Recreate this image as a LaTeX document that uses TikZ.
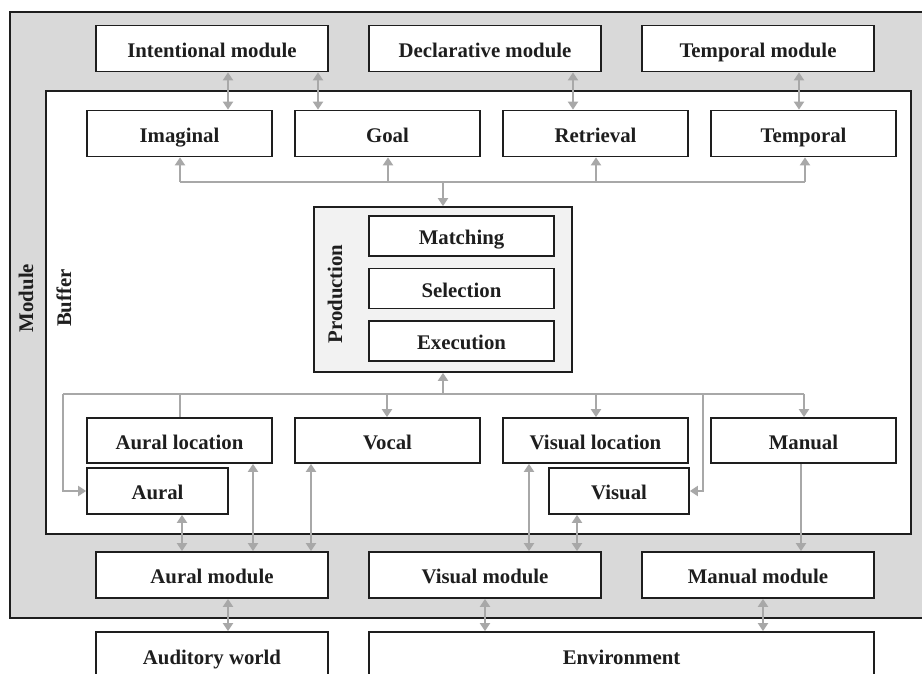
\documentclass[tikz,border=0pt]{standalone}
\usepackage{fontspec}
\setmainfont{Liberation Serif}
\usetikzlibrary{arrows.meta}
\definecolor{wire}{HTML}{A8A8A8}
\definecolor{panel}{HTML}{D9D9D9}
\definecolor{prodfill}{HTML}{F2F2F2}
\definecolor{ink}{HTML}{1E1E1E}
\begin{document}
\begin{tikzpicture}[x=1pt,y=-1pt,
  lbl/.style={text=ink, font=\fontsize{20.8}{24}\selectfont\bfseries},
  box/.style={lbl, draw=ink, line width=1.8pt, fill=white, inner sep=0pt,
    text height=18pt, text depth=0.5pt},
  modbox/.style={box, minimum width=232pt, minimum height=46pt},
  bufbox/.style={box, minimum width=185pt, minimum height=46pt},
  subbox/.style={box, minimum width=141pt, minimum height=46pt},
  stagebox/.style={box, minimum width=185pt, minimum height=40pt},
  tip/.tip={Triangle[width=10pt,length=8pt]},
  ln/.style={draw=wire, line width=2.8pt},
  arr/.style={ln, -tip},
  biarr/.style={ln, tip-tip}]

\useasboundingbox (0,0) rectangle (922,674);
\clip (0,0) rectangle (922,674);

% module frame and buffer area
\draw[draw=ink, line width=1.8pt, fill=panel] (10,12) rectangle (940,618);
\draw[draw=ink, line width=1.8pt, fill=white] (46,91) rectangle (911,534);
\node[lbl, rotate=90] (modlbl) at (26,298) {Module};
\node[lbl, rotate=90] (buflbl) at (64,298) {Buffer};

% top modules
\node[modbox] (intm) at (212,48.5) {Intentional module};
\node[modbox] (decm) at (485,48.5) {Declarative module};
\node[modbox] (tmpm) at (758,48.5) {Temporal module};

% top buffers
\node[bufbox] (imag) at (179.5,133.5) {Imaginal};
\node[bufbox] (goal) at (387.5,133.5) {Goal};
\node[bufbox] (retr) at (595.5,133.5) {Retrieval};
\node[bufbox] (temp) at (803.5,133.5) {Temporal};

% production system
\node[draw=ink, line width=1.8pt, fill=prodfill, minimum width=258pt, minimum height=165pt, inner sep=0pt] (prod) at (443,289.5) {};
\node[lbl, rotate=90] (prodlbl) at (335,294) {Production};
\node[stagebox] (match) at (461.5,236) {Matching};
\node[stagebox] (select) at (461.5,288.5) {Selection};
\node[stagebox] (exec) at (461.5,341) {Execution};

% lower buffers
\node[bufbox, minimum height=45pt] (auloc) at (179.5,440.5) {Aural location};
\node[subbox] (aural) at (157.5,491) {Aural};
\node[bufbox, minimum height=45pt] (vocal) at (387.5,440.5) {Vocal};
\node[bufbox, minimum height=45pt] (viloc) at (595.5,440.5) {Visual location};
\node[subbox, minimum width=140pt] (visual) at (619,491) {Visual};
\node[bufbox, minimum height=45pt] (manual) at (803.5,440.5) {Manual};

% perceptual and motor modules
\node[modbox] (aurm) at (212,575) {Aural module};
\node[modbox] (vism) at (485,575) {Visual module};
\node[modbox] (manm) at (758,575) {Manual module};

% outside world
\node[modbox, minimum height=48pt] (audw) at (212,656) {Auditory world};
\node[box, minimum width=505pt, minimum height=48pt] (env) at (621.5,656) {Environment};

% module <-> buffer links (top)
\draw[biarr] (228,0 |- intm.south) -- (228,0 |- imag.north);
\draw[biarr] (318,0 |- intm.south) -- (318,0 |- goal.north);
\draw[biarr] (573,0 |- decm.south) -- (573,0 |- retr.north);
\draw[biarr] (799,0 |- tmpm.south) -- (799,0 |- temp.north);

% upper bus
\coordinate (bt) at (443,182);
\draw[ln] (180,0 |- bt) -- (805,0 |- bt);
\draw[arr] (180,0 |- bt) -- (180,0 |- imag.south);
\draw[arr] (388,0 |- bt) -- (388,0 |- goal.south);
\draw[arr] (596,0 |- bt) -- (596,0 |- retr.south);
\draw[arr] (805,0 |- bt) -- (805,0 |- temp.south);
\draw[arr] (bt) -- (bt |- prod.north);

% lower bus
\coordinate (bb) at (443,394);
\draw[arr] (bb) -- (bb |- prod.south);
\draw[ln] (63,0 |- bb) -- (804,0 |- bb);
\draw[arr] (63,0 |- bb) |- (aural.west);
\draw[ln] (180,0 |- bb) -- (180,0 |- auloc.north);
\draw[arr] (387,0 |- bb) -- (387,0 |- vocal.north);
\draw[arr] (596,0 |- bb) -- (596,0 |- viloc.north);
\draw[arr] (703,0 |- bb) |- (visual.east);
\draw[arr] (804,0 |- bb) -- (804,0 |- manual.north);

% buffer <-> module links (bottom)
\draw[biarr] (182,0 |- aural.south) -- (182,0 |- aurm.north);
\draw[biarr] (253,0 |- auloc.south) -- (253,0 |- aurm.north);
\draw[biarr] (311,0 |- vocal.south) -- (311,0 |- aurm.north);
\draw[biarr] (529,0 |- viloc.south) -- (529,0 |- vism.north);
\draw[biarr] (577,0 |- visual.south) -- (577,0 |- vism.north);
\draw[arr] (801,0 |- manual.south) -- (801,0 |- manm.north);

% modules <-> world
\draw[biarr] (228,0 |- aurm.south) -- (228,0 |- audw.north);
\draw[biarr] (485,0 |- vism.south) -- (485,0 |- env.north);
\draw[biarr] (763,0 |- manm.south) -- (763,0 |- env.north);
\end{tikzpicture}
\end{document}
